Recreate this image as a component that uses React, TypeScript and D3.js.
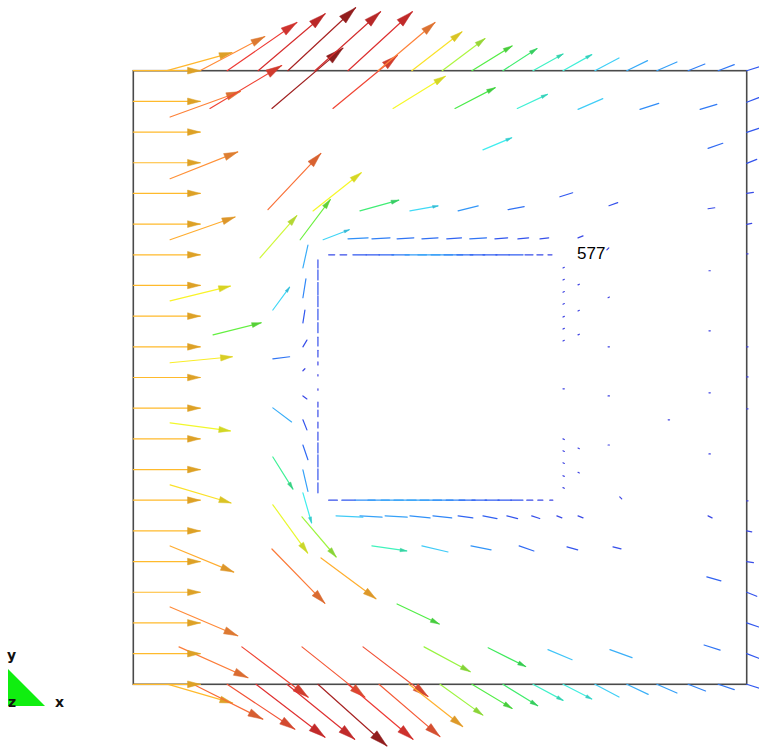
import React from 'react';
import * as d3 from 'd3';

const WIDTH = 759;
const HEIGHT = 748;
const xDomain: [number, number] = [0, 20];
const yDomain: [number, number] = [0, 20];
const ARROW_SCALE = 2.185; // domain units per unit (inlet-normalised) speed

// colour map by speed
const speedStops = [0, 0.2, 0.3, 0.38, 0.46, 0.54, 0.64, 0.74, 0.82, 0.92, 1.0, 1.1, 1.28, 1.42];
const speedColors = ['#4040e0', '#3058f0', '#3090f8', '#40c0f8', '#40ecf4', '#40f4b0', '#40e850', '#60f040', '#c8f840', '#f8f828', '#ffba2c', '#ff8a3a', '#ec3434', '#8c1c1c'];

type Vec = [number, number, number, number]; // x, y, u, v

const inletArrows: Vec[] = [
  [0, 0, 1, 0], [0, 1, 1, 0], [0, 2, 1, 0], [0, 3, 1, 0], [0, 4, 1, 0], [0, 5, 1, 0], [0, 6, 1, 0],
  [0, 7, 1, 0], [0, 8, 1, 0], [0, 9, 1, 0], [0, 10, 1, 0], [0, 11, 1, 0], [0, 12, 1, 0], [0, 13, 1, 0],
  [0, 14, 1, 0], [0, 15, 1, 0], [0, 16, 1, 0], [0, 17, 1, 0], [0, 18, 1, 0], [0, 19, 1, 0], [0, 20, 1, 0],
];

const topWallArrows: Vec[] = [
  [1.10, 20, 0.97, 0.27], [2.17, 20, 0.97, 0.51], [3.06, 20, 1.04, 0.72], [4.07, 20, 1.00, 0.85],
  [5.04, 20, 1.01, 0.94], [5.92, 20, 0.98, 0.88], [7.00, 20, 0.96, 0.88], [7.98, 20, 0.85, 0.72],
  [9.08, 20, 0.75, 0.58], [10.07, 20, 0.64, 0.48], [11.04, 20, 0.60, 0.37], [12.05, 20, 0.51, 0.33],
  [13.03, 20, 0.45, 0.25], [14.01, 20, 0.43, 0.24], [15.05, 20, 0.36, 0.19], [16.09, 20, 0.31, 0.15],
  [17.07, 20, 0.30, 0.13], [18.09, 20, 0.25, 0.10], [19.07, 20, 0.24, 0.09], [20.0, 20, 0.19, 0.06],
];

const bottomWallArrows: Vec[] = [
  [1.14, 0, 0.96, -0.28], [1.95, 0, 1.04, -0.52], [3.06, 0, 1.01, -0.67], [4.00, 0, 1.03, -0.79],
  [5.01, 0, 1.01, -0.82], [6.02, 0, 1.03, -0.92], [7.00, 0, 0.97, -0.82], [8.01, 0, 0.91, -0.78],
  [8.99, 0, 0.80, -0.63], [10.00, 0, 0.64, -0.46], [11.04, 0, 0.60, -0.36], [12.05, 0, 0.52, -0.32],
  [13.03, 0, 0.45, -0.24], [14.01, 0, 0.43, -0.22], [15.05, 0, 0.36, -0.19], [16.09, 0, 0.32, -0.15],
  [17.07, 0, 0.30, -0.13], [18.09, 0, 0.26, -0.10], [19.07, 0, 0.24, -0.08], [20.0, 0, 0.19, -0.06],
];

const rightWallArrows: Vec[] = [
  [20, 18.97, 0.18, 0.07], [20, 17.99, 0.18, 0.06], [20, 16.98, 0.15, 0.06], [20, 16.0, 0.10, 0.015],
  [20, 14.99, 0.075, 0.015], [20, 5.0, 0.075, -0.015], [20, 4.0, 0.10, -0.015], [20, 3.0, 0.15, -0.06],
  [20, 2.0, 0.18, -0.06], [20, 1.0, 0.18, -0.07],
];

const interiorUpper: Vec[] = [
  [1.20, 18.49, 1.05, 0.38], [2.50, 18.77, 1.07, 0.64], [4.52, 18.77, 1.06, 0.90], [6.51, 18.77, 0.96, 0.79],
  [8.47, 18.77, 0.78, 0.48], [10.49, 18.77, 0.60, 0.31], [12.52, 18.77, 0.45, 0.21], [14.50, 18.74, 0.37, 0.16],
  [16.52, 18.74, 0.28, 0.09], [18.48, 18.74, 0.25, 0.075],
  [1.20, 16.48, 1.01, 0.40], [11.40, 17.42, 0.43, 0.18], [18.74, 17.47, 0.22, 0.075],
  [1.20, 14.49, 0.97, 0.34], [4.39, 15.47, 0.79, 0.84], [5.86, 15.43, 0.72, 0.57], [7.39, 15.43, 0.58, 0.16],
  [9.02, 15.43, 0.42, 0.075], [10.59, 15.43, 0.30, 0.075], [12.22, 15.47, 0.24, 0.045], [13.91, 15.89, 0.19, 0.06],
  [15.51, 15.60, 0.13, 0.045], [18.74, 15.50, 0.10, 0.015],
  [4.13, 13.90, 0.55, 0.63], [5.44, 14.49, 0.45, 0.60], [6.19, 14.49, 0.39, 0.15],
  [1.20, 12.50, 0.90, 0.22], [2.60, 11.39, 0.72, 0.18], [1.20, 10.48, 0.93, 0.09],
];

const interiorLower: Vec[] = [
  [1.20, 8.52, 0.90, -0.12], [1.20, 6.50, 0.91, -0.27], [1.20, 4.51, 0.95, -0.39], [1.20, 2.52, 1.01, -0.43],
  [1.49, 1.22, 1.03, -0.46], [3.54, 1.22, 0.99, -0.75], [5.50, 1.22, 0.94, -0.75], [7.49, 1.22, 0.97, -0.74],
  [9.48, 1.22, 0.69, -0.37], [11.57, 1.19, 0.56, -0.28], [13.52, 1.13, 0.36, -0.15], [15.54, 1.13, 0.33, -0.12],
  [18.61, 1.28, 0.24, -0.075],
  [8.60, 2.62, 0.63, -0.30], [4.52, 4.41, 0.79, -0.81], [6.12, 4.12, 0.82, -0.61], [5.50, 5.46, 0.51, -0.60],
  [18.70, 3.50, 0.21, -0.06],
  [7.78, 4.51, 0.52, -0.075], [9.41, 4.51, 0.39, -0.09], [11.01, 4.51, 0.30, -0.06], [12.58, 4.51, 0.22, -0.075],
  [14.14, 4.48, 0.16, -0.045], [15.64, 4.48, 0.12, -0.03], [18.74, 5.49, 0.06, -0.03], [15.86, 6.11, 0.03, -0.03],
];

const nearBodyLeft: Vec[] = [
  [4.55, 12.20, 0.25, 0.34], [4.55, 10.61, 0.25, 0.03], [4.55, 9.01, 0.28, -0.21], [4.55, 7.41, 0.30, -0.48],
  [4.55, 5.85, 0.52, -0.72],
  [5.53, 13.57, 0.075, 0.34], [5.53, 12.60, 0.045, 0.28], [5.53, 11.78, 0.03, 0.19], [5.53, 11.00, 0.06, 0.10],
  [5.53, 10.22, 0.03, 0.03], [5.53, 9.40, 0.06, -0.045], [5.53, 8.62, 0.06, -0.15], [5.53, 7.80, 0.075, -0.22],
  [5.53, 6.99, 0.075, -0.32], [5.53, 6.24, 0.13, -0.45],
];

const rowAboveBody: Vec[] = [
  [7.00, 14.52, 0.30, 0.015], [7.78, 14.52, 0.27, 0.015], [8.60, 14.52, 0.25, 0.015], [9.41, 14.52, 0.24, 0.015],
  [10.22, 14.52, 0.22, 0.015], [10.97, 14.52, 0.25, 0.015], [11.79, 14.52, 0.19, 0.015], [12.54, 14.52, 0.16, 0.015],
  [13.26, 14.52, 0.13, 0.015], [14.50, 14.55, 0.075, 0.03],
];

const rowBelowBody: Vec[] = [
  [6.61, 5.49, 0.40, -0.02], [7.39, 5.49, 0.33, -0.02], [8.21, 5.49, 0.33, -0.02], [9.02, 5.49, 0.30, -0.03],
  [9.77, 5.49, 0.28, -0.03], [10.59, 5.49, 0.22, -0.03], [11.40, 5.49, 0.21, -0.04], [12.18, 5.49, 0.16, -0.04],
  [12.99, 5.49, 0.12, -0.04], [13.81, 5.49, 0.075, -0.03], [14.50, 5.49, 0.075, -0.03],
];

// body faces
const FACE_TOP_Y = 14.0;
const faceTopX = [6.37, 6.74, 7.16, 7.59, 8.01, 8.43, 8.86, 9.28, 9.71, 10.13, 10.55, 10.98, 11.40, 11.82, 12.25, 12.77, 13.16, 13.52];
const faceTopU = [0.09, 0.10, 0.20, 0.20, 0.22, 0.26, 0.32, 0.33, 0.32, 0.28, 0.24, 0.22, 0.21, 0.20, 0.21, 0.12, 0.09, 0.06];
const FACE_BOTTOM_Y = 6.0;
const faceBottomX = [6.37, 6.80, 7.23, 7.65, 8.08, 8.50, 8.92, 9.35, 9.77, 10.20, 10.62, 11.04, 11.47, 11.89, 12.31, 12.83, 13.19, 13.58];
const faceBottomU = [0.13, 0.20, 0.30, 0.32, 0.33, 0.33, 0.33, 0.32, 0.30, 0.28, 0.24, 0.22, 0.21, 0.20, 0.18, 0.09, 0.075, 0.045];
const FACE_LEFT_X = 6.02;
const faceLeftY = [13.57, 13.18, 12.70, 12.31, 11.88, 11.46, 11.03, 10.67, 10.41, 10.05, 9.63, 9.20, 8.94, 8.55, 8.22, 7.87, 7.48, 7.02, 6.57];
const faceLeftV = [0.12, 0.15, 0.18, 0.16, 0.16, 0.15, 0.13, 0.10, 0.045, 0.02, -0.02, -0.075, -0.10, -0.09, -0.12, -0.15, -0.18, -0.16, -0.15];

// near-stagnant wake nodes (tiny vectors)
const wakeArrows: Vec[] = [
  [14.01, 13.57, 0.02, 0.01], [14.01, 13.18, 0.02, 0.01], [14.01, 12.78, 0.02, 0.01], [14.01, 12.39, 0.02, 0.01],
  [14.01, 11.97, 0.02, 0.01], [14.01, 11.58, 0.02, 0.01], [14.01, 11.19, 0.02, 0.01], [14.01, 9.63, 0.02, 0.0],
  [14.01, 8.00, 0.02, -0.01], [14.01, 7.61, 0.02, -0.01], [14.01, 7.22, 0.02, -0.01], [14.01, 6.80, 0.02, -0.01],
  [14.01, 6.41, 0.02, -0.01],
  [14.50, 13.02, 0.02, 0.01], [14.50, 12.17, 0.02, 0.01], [14.50, 11.39, 0.02, 0.01], [14.50, 7.70, 0.02, -0.01],
  [14.50, 6.91, 0.02, -0.01],
  [15.48, 12.60, 0.02, 0.01], [15.48, 11.00, 0.02, 0.0], [15.48, 9.40, 0.02, 0.0], [15.48, 7.80, 0.02, 0.0],
  [17.44, 8.62, 0.02, 0.0],
  [18.77, 13.48, 0.02, 0.0], [18.77, 11.52, 0.02, 0.0], [18.77, 9.50, 0.02, 0.0], [18.77, 7.51, 0.02, 0.0],
  [20, 14.03, 0.02, 0.0], [20, 11.00, 0.02, 0.0], [20, 10.02, 0.02, 0.0], [20, 8.98, 0.02, 0.0], [20, 5.98, 0.02, 0.0],
  [15.44, 14.16, 0.03, 0.03],
];

const nodeLabel = { text: '577', x: 14.47, y: 13.87 };

export default function App() {
  const x = d3.scaleLinear().domain(xDomain).range([133.3, 746.7]);
  const y = d3.scaleLinear().domain(yDomain).range([684.3, 70.7]);
  const color = d3
    .scaleLinear<string>()
    .domain(speedStops)
    .range(speedColors)
    .interpolate(d3.interpolateRgb)
    .clamp(true);

  const faceVecs: Vec[] = [
    ...faceTopX.map((xv, i) => [xv, FACE_TOP_Y, faceTopU[i], 0] as Vec),
    ...faceBottomX.map((xv, i) => [xv, FACE_BOTTOM_Y, faceBottomU[i], 0] as Vec),
    ...faceLeftY.map((yv, i) => [FACE_LEFT_X, yv, 0, faceLeftV[i]] as Vec),
  ];

  const all: Vec[] = [
    ...wakeArrows,
    ...faceVecs,
    ...rowAboveBody,
    ...rowBelowBody,
    ...nearBodyLeft,
    ...rightWallArrows,
    ...interiorLower,
    ...interiorUpper,
    ...topWallArrows,
    ...bottomWallArrows,
    ...inletArrows,
  ];

  const arrows = all.map((d, i) => {
    const [vx, vy, u, v] = d;
    const speed = Math.hypot(u, v);
    const x0 = x(vx);
    const y0 = y(vy);
    const x1 = x(vx + u * ARROW_SCALE);
    const y1 = y(vy + v * ARROW_SCALE);
    const L = Math.hypot(x1 - x0, y1 - y0);
    const c = color(speed);
    let head: string | null = null;
    if (L > 28) {
      const dx = (x1 - x0) / L;
      const dy = (y1 - y0) / L;
      const hl = 0.19 * L;
      const hw = 0.05 * L;
      const bx = x1 - dx * hl;
      const by = y1 - dy * hl;
      head = `${x1},${y1} ${bx - dy * hw},${by + dx * hw} ${bx + dy * hw},${by - dx * hw}`;
    }
    const dark = d3.color(c)!.darker(0.4).formatHex();
    return (
      <g key={i}>
        <line x1={x0} y1={y0} x2={x1} y2={y1} stroke={c} strokeWidth={1.2} strokeLinecap="round" />
        {head && <polygon points={head} fill={dark} stroke={dark} strokeWidth={0.5} strokeLinejoin="round" />}
      </g>
    );
  });

  return (
    <svg
      width={WIDTH}
      height={HEIGHT}
      style={{ position: 'absolute', left: 0, top: 0, background: '#ffffff' }}
      xmlns="http://www.w3.org/2000/svg"
    >
      <rect x={0} y={0} width={WIDTH} height={HEIGHT} fill="#ffffff" />
      <rect
        x={x(xDomain[0])}
        y={y(yDomain[1])}
        width={x(xDomain[1]) - x(xDomain[0])}
        height={y(yDomain[0]) - y(yDomain[1])}
        fill="none"
        stroke="#4a4a4a"
        strokeWidth={1.6}
      />
      {arrows}
      <text
        x={x(nodeLabel.x)}
        y={y(nodeLabel.y)}
        fontFamily="'Liberation Sans', Arial, sans-serif"
        fontSize={17}
        fill="#000"
      >
        {nodeLabel.text}
      </text>
      {/* axis triad */}
      <polygon points="8,669 8,706 45,706" fill="#10ee10" />
      <g fontFamily="'DejaVu Sans', sans-serif" fontWeight="bold" fontSize={14} fill="#111">
        <text x={7} y={660}>y</text>
        <text x={8} y={707}>z</text>
        <text x={55} y={707}>x</text>
      </g>
    </svg>
  );
}
